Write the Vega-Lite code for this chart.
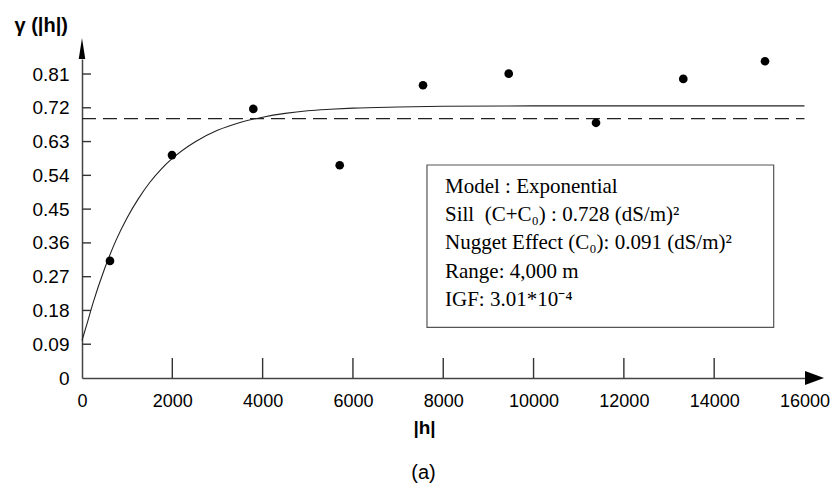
{
  "$schema": "https://vega.github.io/schema/vega-lite/v6.json",
  "width": 727,
  "height": 319,
  "autosize": "none",
  "padding": {"left": 82, "top": 59, "right": 24, "bottom": 111},
  "background": "white",
  "config": {"view": {"stroke": null}, "font": "Liberation Sans"},
  "title": {"text": "(a)", "orient": "bottom", "anchor": "middle", "dx": -22, "offset": 26, "font": "Liberation Sans", "fontSize": 20, "fontWeight": "normal", "color": "black"},
  "datasets": {
    "points": [
      {"h": 620, "g": 0.312},
      {"h": 1993, "g": 0.594},
      {"h": 3794, "g": 0.717},
      {"h": 5707, "g": 0.567},
      {"h": 7552, "g": 0.780},
      {"h": 9450, "g": 0.811},
      {"h": 11383, "g": 0.680},
      {"h": 13316, "g": 0.797},
      {"h": 15126, "g": 0.844}
    ],
    "curve": [
      {"h": 0, "g": 0.100},
      {"h": 100, "g": 0.140},
      {"h": 250, "g": 0.202},
      {"h": 500, "g": 0.291},
      {"h": 750, "g": 0.366},
      {"h": 1000, "g": 0.427},
      {"h": 1250, "g": 0.478},
      {"h": 1500, "g": 0.521},
      {"h": 1750, "g": 0.556},
      {"h": 2000, "g": 0.585},
      {"h": 2500, "g": 0.629},
      {"h": 3000, "g": 0.660},
      {"h": 3500, "g": 0.681},
      {"h": 4000, "g": 0.695},
      {"h": 4500, "g": 0.705},
      {"h": 5000, "g": 0.712},
      {"h": 5500, "g": 0.716},
      {"h": 6000, "g": 0.719},
      {"h": 7000, "g": 0.722},
      {"h": 8000, "g": 0.724},
      {"h": 10000, "g": 0.725},
      {"h": 12000, "g": 0.725},
      {"h": 14000, "g": 0.725},
      {"h": 16000, "g": 0.725}
    ],
    "variance": [{"h": 0, "h2": 16000, "g": 0.691}],
    "box": [{"h": 7640, "h2": 15318, "g": 0.1351, "g2": 0.5676}],
    "notes": [
      {"h": 8039, "g": 0.4929, "label": "Model : Exponential"},
      {"h": 8039, "g": 0.4177, "label": "Sill \u00a0(C+C₀) : 0.728 (dS/m)²"},
      {"h": 8039, "g": 0.3424, "label": "Nugget Effect (C₀): 0.091 (dS/m)²"},
      {"h": 8039, "g": 0.2671, "label": "Range: 4,000 m"},
      {"h": 8039, "g": 0.1918, "label": "IGF: 3.01*10⁻⁴"}
    ],
    "xticks": [
      {"h": 2000, "g": 0}, {"h": 4000, "g": 0}, {"h": 6000, "g": 0}, {"h": 8000, "g": 0},
      {"h": 10000, "g": 0}, {"h": 12000, "g": 0}, {"h": 14000, "g": 0}
    ],
    "yticks": [
      {"h": 0, "g": 0.09}, {"h": 0, "g": 0.18}, {"h": 0, "g": 0.27}, {"h": 0, "g": 0.36}, {"h": 0, "g": 0.45},
      {"h": 0, "g": 0.54}, {"h": 0, "g": 0.63}, {"h": 0, "g": 0.72}, {"h": 0, "g": 0.81}
    ],
    "xarrow": [{"h": 16222, "g": 0}],
    "yarrow": [{"h": 0, "g": 0.878}]
  },
  "encoding": {
    "x": {
      "field": "h", "type": "quantitative",
      "scale": {"domain": [0, 16100], "nice": false, "zero": false},
      "axis": {
        "values": [0, 2000, 4000, 6000, 8000, 10000, 12000, 14000, 16000],
        "format": "d",
        "grid": false,
        "ticks": false,
        "title": "|h|",
        "titleFont": "Liberation Sans", "titleFontWeight": "bold", "titleFontSize": 19, "titleColor": "black",
        "titleX": 342, "titleY": 49, "titleAlign": "center", "titleBaseline": "middle", "titleAnchor": null,
        "labelFont": "Liberation Sans", "labelFontSize": 18, "labelColor": "black",
        "labelFlush": false, "labelOverlap": false, "labelPadding": 14,
        "domainColor": "#444", "domainWidth": 1.5
      }
    },
    "y": {
      "field": "g", "type": "quantitative",
      "scale": {"domain": [0, 0.85], "nice": false, "zero": false},
      "axis": {
        "values": [0, 0.09, 0.18, 0.27, 0.36, 0.45, 0.54, 0.63, 0.72, 0.81],
        "format": ".2~f",
        "grid": false,
        "ticks": false,
        "title": "γ (|h|)",
        "titleFont": "Liberation Sans", "titleFontWeight": "bold", "titleFontSize": 20, "titleColor": "black",
        "titleAngle": 0, "titleX": -68, "titleY": -34, "titleAlign": "left", "titleBaseline": "middle", "titleAnchor": null,
        "labelFont": "Liberation Sans", "labelFontSize": 19, "labelColor": "black",
        "labelFlush": false, "labelOverlap": false, "labelPadding": 13,
        "domainColor": "#444", "domainWidth": 1.5
      }
    }
  },
  "layer": [
    {
      "data": {"name": "variance"},
      "mark": {"type": "rule", "color": "#222", "strokeWidth": 1.2, "strokeDash": [14, 7]},
      "encoding": {"x2": {"field": "h2"}}
    },
    {
      "data": {"name": "curve"},
      "mark": {"type": "line", "color": "#222", "strokeWidth": 1.1, "interpolate": "monotone"}
    },
    {
      "data": {"name": "box"},
      "mark": {"type": "rect", "fill": "white", "stroke": "#555", "strokeWidth": 1.2},
      "encoding": {"x2": {"field": "h2"}, "y2": {"field": "g2"}}
    },
    {
      "data": {"name": "notes"},
      "mark": {"type": "text", "align": "left", "baseline": "alphabetic", "font": "Liberation Serif", "fontSize": 21, "color": "black"},
      "encoding": {"text": {"field": "label"}}
    },
    {
      "data": {"name": "xticks"},
      "mark": {"type": "tick", "orient": "vertical", "size": 20, "thickness": 1.4, "yOffset": -10, "color": "#333", "opacity": 1},
      "encoding": {"size": {"value": 20}}
    },
    {
      "data": {"name": "yticks"},
      "mark": {"type": "rule", "color": "#333", "strokeWidth": 1.4, "x2Offset": 9},
      "encoding": {"x2": {"field": "h"}}
    },
    {
      "data": {"name": "points"},
      "mark": {"type": "point", "shape": "circle", "filled": true, "color": "black", "opacity": 1, "size": 75}
    },
    {
      "data": {"name": "xarrow"},
      "mark": {"type": "point", "shape": "M1,0L-1,-0.737L-1,0.737Z", "filled": true, "color": "black", "opacity": 1, "size": 361}
    },
    {
      "data": {"name": "yarrow"},
      "mark": {"type": "point", "shape": "M0,-1L0.31,1L-0.31,1Z", "filled": true, "color": "black", "opacity": 1, "size": 441}
    }
  ]
}
